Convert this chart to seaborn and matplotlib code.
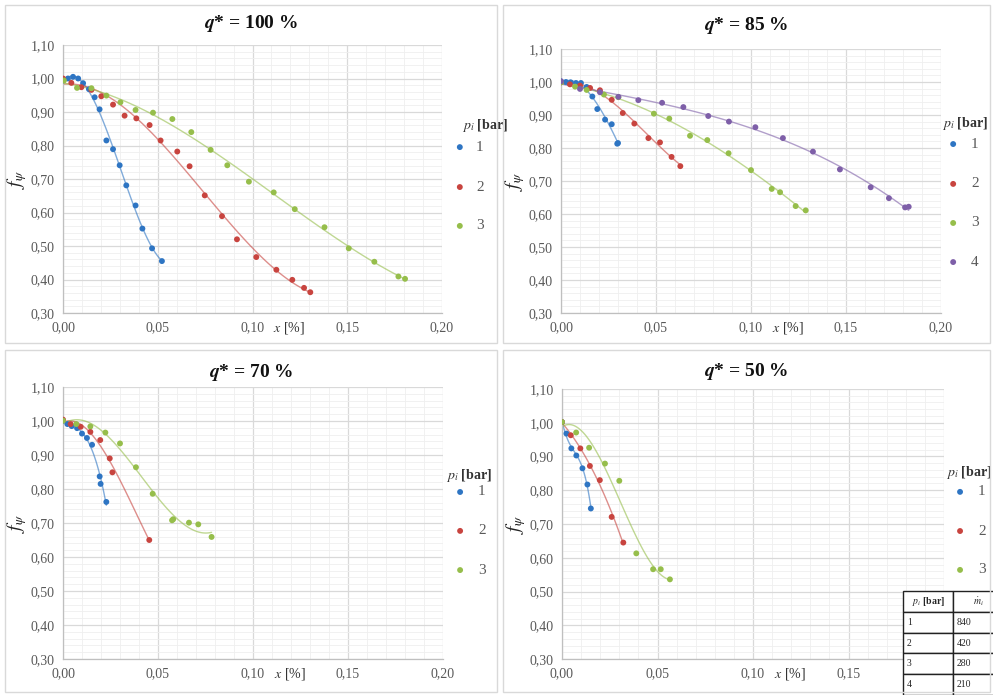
import numpy as np
import pandas as pd
import seaborn as sns
import matplotlib.pyplot as plt
from matplotlib.patches import Rectangle
from matplotlib.ticker import MultipleLocator, FuncFormatter

# --- data: x [%] and f_psi per inlet pressure p_i [bar] ---
# q* = 100 %
x100_1 = [0.0, 0.0026, 0.0053, 0.008, 0.0106, 0.0137, 0.0167, 0.0193, 0.0229, 0.0264, 0.0299, 0.0334, 0.0383, 0.0419, 0.047, 0.0522]
y100_1 = [0.994, 1.0, 1.005, 1.0, 0.986, 0.968, 0.944, 0.908, 0.815, 0.789, 0.741, 0.681, 0.621, 0.552, 0.493, 0.455]
x100_2 = [0.0, 0.0044, 0.0097, 0.015, 0.0202, 0.0264, 0.0325, 0.0387, 0.0457, 0.0515, 0.0603, 0.0668, 0.0748, 0.0839, 0.0918, 0.102, 0.1126, 0.121, 0.1272, 0.1305]
y100_2 = [1.0, 0.987, 0.974, 0.966, 0.947, 0.922, 0.889, 0.881, 0.861, 0.815, 0.782, 0.738, 0.651, 0.589, 0.520, 0.467, 0.429, 0.399, 0.375, 0.362]
x100_3 = [0.0005, 0.0074, 0.015, 0.0229, 0.0303, 0.0383, 0.0475, 0.0577, 0.0677, 0.0779, 0.0867, 0.0981, 0.1112, 0.1223, 0.138, 0.1508, 0.1643, 0.177, 0.1805]
y100_3 = [0.994, 0.972, 0.971, 0.949, 0.929, 0.906, 0.898, 0.879, 0.840, 0.787, 0.741, 0.692, 0.660, 0.610, 0.556, 0.493, 0.453, 0.409, 0.402]

# q* = 85 %
x85_1 = [0.0, 0.0026, 0.0051, 0.0079, 0.0105, 0.0135, 0.0165, 0.0191, 0.0232, 0.0267, 0.0296, 0.030]
y85_1 = [1.002, 1.0, 0.999, 0.997, 0.997, 0.985, 0.956, 0.918, 0.886, 0.872, 0.813, 0.815]
x85_2 = [0.0, 0.0047, 0.010, 0.0153, 0.0205, 0.0267, 0.0325, 0.0386, 0.046, 0.0521, 0.0582, 0.0628]
y85_2 = [0.999, 0.993, 0.989, 0.982, 0.975, 0.946, 0.906, 0.874, 0.830, 0.817, 0.773, 0.745]
x85_3 = [0.0, 0.0074, 0.0135, 0.0226, 0.0302, 0.0489, 0.057, 0.0679, 0.077, 0.0882, 0.100, 0.1109, 0.1153, 0.1235, 0.1288]
y85_3 = [0.999, 0.986, 0.976, 0.962, 0.954, 0.904, 0.889, 0.837, 0.824, 0.784, 0.733, 0.676, 0.666, 0.624, 0.611]
x85_4 = [0.0, 0.010, 0.0205, 0.0302, 0.0407, 0.0532, 0.0644, 0.0775, 0.0884, 0.1023, 0.1168, 0.1326, 0.1468, 0.163, 0.1726, 0.1811, 0.183]
y85_4 = [1.002, 0.979, 0.969, 0.955, 0.945, 0.937, 0.924, 0.897, 0.880, 0.863, 0.830, 0.789, 0.735, 0.681, 0.648, 0.620, 0.622]

# q* = 70 %
x70_1 = [0.0, 0.0023, 0.0046, 0.0074, 0.010, 0.0126, 0.0153, 0.0193, 0.0198, 0.0228]
y70_1 = [1.001, 0.991, 0.985, 0.979, 0.963, 0.950, 0.930, 0.837, 0.815, 0.762]
x70_2 = [0.0, 0.004, 0.0093, 0.0144, 0.0196, 0.0246, 0.026, 0.0454]
y70_2 = [1.004, 0.991, 0.983, 0.968, 0.944, 0.890, 0.849, 0.650]
x70_3 = [0.0, 0.007, 0.0144, 0.0223, 0.030, 0.0384, 0.0472, 0.0574, 0.058, 0.0663, 0.0712, 0.0782]
y70_3 = [1.001, 0.991, 0.984, 0.966, 0.934, 0.864, 0.786, 0.708, 0.711, 0.701, 0.696, 0.659]

# q* = 50 %
x50_1 = [0.0, 0.0023, 0.0049, 0.0075, 0.0107, 0.0133, 0.0151]
y50_1 = [1.002, 0.968, 0.924, 0.903, 0.865, 0.817, 0.746]
x50_2 = [0.0, 0.0046, 0.0096, 0.0146, 0.0198, 0.026, 0.0321]
y50_2 = [1.002, 0.963, 0.924, 0.872, 0.830, 0.721, 0.645]
x50_3 = [0.0, 0.0074, 0.0142, 0.0225, 0.030, 0.0389, 0.0477, 0.0517, 0.0565]
y50_3 = [1.002, 0.971, 0.926, 0.879, 0.828, 0.613, 0.566, 0.566, 0.536]

titles = ["100", "85", "70", "50"]
table_p = ["1", "2", "3", "4"]
table_m = ["840", "420", "280", "210"]

panels = [
    [(x100_1, y100_1), (x100_2, y100_2), (x100_3, y100_3)],
    [(x85_1, y85_1), (x85_2, y85_2), (x85_3, y85_3), (x85_4, y85_4)],
    [(x70_1, y70_1), (x70_2, y70_2), (x70_3, y70_3)],
    [(x50_1, y50_1), (x50_2, y50_2), (x50_3, y50_3)],
]

colors = ["#2E75C3", "#C8443F", "#96BE4B", "#7E5FA8"]

sns.set_style("white")
plt.rcParams['font.family'] = ['Liberation Serif', 'DejaVu Serif']
plt.rcParams['mathtext.fontset'] = 'stix'

fig = plt.figure(figsize=(9.93, 6.95), dpi=100)
W, H = 993, 695

# panel frames (pixel boxes)
frames = [(5, 5, 497, 343), (503, 5, 990, 343), (5, 350, 497, 692), (503, 350, 990, 692)]
for x0, y0, x1, y1 in frames:
    fig.patches.append(Rectangle((x0 / W, 1 - y1 / H), (x1 - x0) / W, (y1 - y0) / H,
                                 transform=fig.transFigure, fill=False, ec="#D9D9D9", lw=1))

axes_px = [(63, 45, 442, 313), (561, 49, 941, 313), (63, 387, 443, 659), (562, 389, 944, 659)]
title_y = [24, 25, 372, 371]
# legend layout in axes coords: marker x, text x, title (x, y), entry ys
leg_pos = [
    (1.047, 1.090, (1.113, 0.700), [0.619, 0.470, 0.325]),
    (1.032, 1.079, (1.063, 0.716), [0.640, 0.489, 0.341, 0.193]),
    (1.045, 1.092, (1.068, 0.676), [0.614, 0.471, 0.327]),
    (1.042, 1.089, (1.065, 0.689), [0.619, 0.474, 0.330]),
]
comma = FuncFormatter(lambda v, p: f"{v:.2f}".replace(".", ","))

for k, (x0, y0, x1, y1) in enumerate(axes_px):
    ax = fig.add_axes([x0 / W, 1 - y1 / H, (x1 - x0) / W, (y1 - y0) / H])
    for i, (xs, ys) in enumerate(panels[k]):
        df = pd.DataFrame({"x": xs, "y": ys})
        sns.regplot(data=df, x="x", y="y", order=3, ci=None, scatter=False, truncate=True,
                    ax=ax, line_kws=dict(color=colors[i], lw=1, alpha=0.6))
        sns.scatterplot(data=df, x="x", y="y", ax=ax, color=colors[i], s=18,
                        edgecolor="none", zorder=3)
    ax.set_xlim(0, 0.20)
    ax.set_ylim(0.30, 1.10)
    ax.xaxis.set_major_locator(MultipleLocator(0.05))
    ax.xaxis.set_minor_locator(MultipleLocator(0.01))
    ax.yaxis.set_major_locator(MultipleLocator(0.10))
    ax.yaxis.set_minor_locator(MultipleLocator(0.02))
    ax.xaxis.set_major_formatter(comma)
    ax.yaxis.set_major_formatter(comma)
    ax.grid(which="major", color="#D9D9D9", lw=0.9)
    ax.grid(which="minor", color="#EFEFEF", lw=0.6)
    ax.set_axisbelow(True)
    for s in ["top", "right"]:
        ax.spines[s].set_visible(False)
    for s in ["left", "bottom"]:
        ax.spines[s].set_color("#BFBFBF")
        ax.spines[s].set_linewidth(0.9)
    ax.tick_params(axis="both", which="major", labelsize=10, colors="#BFBFBF",
                   labelcolor="#595959", length=3, pad=3)
    ax.tick_params(which="minor", length=0)
    ax.set_xlabel("")
    ax.set_ylabel(r"$f_\psi$", fontsize=14, labelpad=1, color="#222222")
    ax.text(0.111, -0.055, r"$x$ [%]", transform=ax.get_xaxis_transform(),
            fontsize=10, color="#333333", va="center")
    cx = (frames[k][0] + frames[k][2]) / 2 / W
    fig.text(cx, 1 - title_y[k] / H, rf"$\mathbfit{{q}}$* = {titles[k]} %", fontsize=14,
             fontweight="bold", ha="center", va="center", color="#111111")

    # legend drawn by hand so the spacing matches the reference
    mx, tx, (ttx, tty), ys_leg = leg_pos[k]
    ax.text(ttx, tty, r"$p_i$ [bar]", transform=ax.transAxes, ha="center", va="center",
            fontsize=10, fontweight="bold", color="#333333")
    for i, yy in enumerate(ys_leg):
        ax.scatter([mx], [yy], transform=ax.transAxes, s=18, color=colors[i],
                   edgecolor="none", clip_on=False)
        ax.text(tx, yy, str(i + 1), transform=ax.transAxes, ha="left", va="center",
                fontsize=11, color="#595959")

# small table in the lower right corner
tax = fig.add_axes([903 / W, 0.0, 100 / W, 104 / H])
tax.axis("off")
tbl = tax.table(cellText=[[p, m] for p, m in zip(table_p, table_m)],
                colLabels=[r"$p_i$ [bar]", r"$\dot{m}_i$"], bbox=[0, 0, 1, 1],
                cellLoc="left")
tbl.auto_set_font_size(False)
tbl.set_fontsize(7)
for (r, c), cell in tbl.get_celld().items():
    cell.set_linewidth(1.0)
    cell.set_edgecolor("#222222")
    cell.PAD = 0.08
    if r == 0:
        cell.get_text().set_fontweight("bold")

fig.savefig("out.png", dpi=100)
